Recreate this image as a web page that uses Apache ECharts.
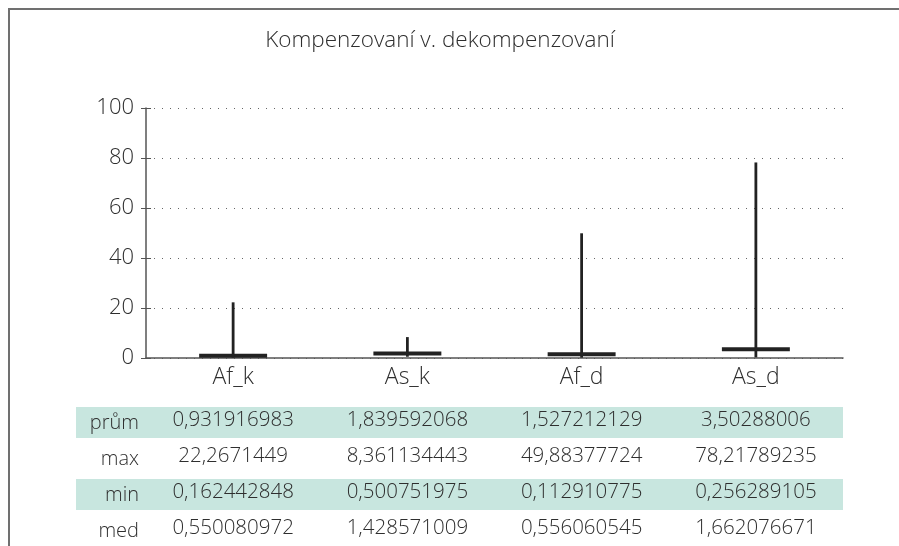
<!DOCTYPE html>
<html>
<head>
<meta charset="utf-8">
<script src="https://cdn.jsdelivr.net/npm/echarts@6/dist/echarts.min.js"></script>
<style>
html,body{margin:0;padding:0;background:#fff;}
#c{width:899px;height:546px;}
</style>
</head>
<body>
<div id="c"></div>
<script>
const titleText = 'Kompenzovaní v. dekompenzovaní';
const categories = ['Af_k', 'As_k', 'Af_d', 'As_d'];
const prumVals = [0.931916983, 1.839592068, 1.527212129, 3.50288006];
const maxVals = [22.2671449, 8.361134443, 49.88377724, 78.21789235];
const minVals = [0.162442848, 0.500751975, 0.112910775, 0.256289105];
const medVals = [0.550080972, 1.428571009, 0.556060545, 1.662076671];
const rowNames = ['prům', 'max', 'min', 'med'];
const rowVals = [prumVals, maxVals, minVals, medVals];

const FONT = "'Open Sans', 'Noto Sans', sans-serif";
const W = 300;
const TXT = '#2e2e2e';
const fmt = v => String(v).replace('.', ',');

const chart = echarts.init(document.getElementById('c'), null, {renderer: 'canvas'});

const rowOffsets = [52, 88, 124, 160];
const extraX = rowVals.map((vals, i) => ({
  type: 'category',
  gridIndex: 0,
  position: 'bottom',
  offset: rowOffsets[i],
  data: vals.map(fmt),
  axisLine: {show: false},
  axisTick: {show: false},
  splitLine: {show: false},
  axisLabel: {interval: 0, margin: 0, fontSize: 20.5, fontWeight: W, color: TXT, fontFamily: FONT}
}));

const seriesData = categories.map((c, i) => [i, minVals[i], maxVals[i], prumVals[i]]);

const rowCenters = [423, 459, 495, 531];
const graphics = [
  {type: 'polyline', shape: {points: [[9, 546], [9, 9], [899, 9]]}, style: {stroke: '#707070', lineWidth: 2, fill: null}, z: -1},
  {type: 'rect', shape: {x: 76, y: 407, width: 767, height: 31}, style: {fill: '#c8e6df'}, z: -10},
  {type: 'rect', shape: {x: 76, y: 479, width: 767, height: 31}, style: {fill: '#c8e6df'}, z: -10}
];
rowNames.forEach((n, i) => {
  graphics.push({type: 'text', x: 139, y: rowCenters[i], style: {text: n, align: 'right', verticalAlign: 'middle', fontSize: 20, fontWeight: W, fill: TXT, fontFamily: FONT}});
});

chart.setOption({
  animation: false,
  backgroundColor: '#ffffff',
  title: {text: titleText, left: 435, top: 24, textAlign: 'center',
    textStyle: {fontSize: 22.5, fontWeight: W, color: TXT, fontFamily: FONT}},
  grid: {left: 146, right: 56, top: 108, bottom: 188, containLabel: false},
  xAxis: [{
    type: 'category',
    data: categories,
    axisLine: {lineStyle: {color: '#555555', width: 1.5}},
    axisTick: {show: false},
    axisLabel: {fontSize: 23, fontWeight: W, color: TXT, fontFamily: FONT, margin: 8}
  }].concat(extraX),
  yAxis: [{
    type: 'value', min: 0, max: 100, interval: 20,
    axisLine: {show: true, lineStyle: {color: '#555555', width: 1.5}},
    axisTick: {show: true, length: 5, lineStyle: {color: '#555555'}},
    axisLabel: {fontSize: 22, fontWeight: W, color: TXT, fontFamily: FONT, margin: 12},
    splitLine: {show: true, lineStyle: {color: '#666666', type: [1, 7], width: 1}}
  }, {
    type: 'value', min: 0, max: 100, interval: 20, position: 'left',
    axisLine: {show: false},
    axisTick: {show: true, inside: true, length: 5, lineStyle: {color: '#555555'}},
    axisLabel: {show: false},
    splitLine: {show: false}
  }],
  graphic: graphics,
  series: [{
    type: 'custom',
    xAxisIndex: 0, yAxisIndex: 0,
    data: seriesData,
    renderItem: function (params, api) {
      const x = api.value(0);
      const pLo = api.coord([x, api.value(1)]);
      const pHi = api.coord([x, api.value(2)]);
      const pMean = api.coord([x, api.value(3)]);
      const bw = api.size([1, 0])[0] * 0.39;
      return {type: 'group', children: [
        {type: 'rect', shape: {x: pMean[0] - bw / 2, y: pMean[1] - 2, width: bw, height: 4}, style: {fill: '#222222'}},
        {type: 'line', shape: {x1: pLo[0], y1: pLo[1], x2: pHi[0], y2: pHi[1]}, style: {stroke: '#222222', lineWidth: 2.8}}
      ]};
    }
  }]
});
</script>
</body>
</html>
